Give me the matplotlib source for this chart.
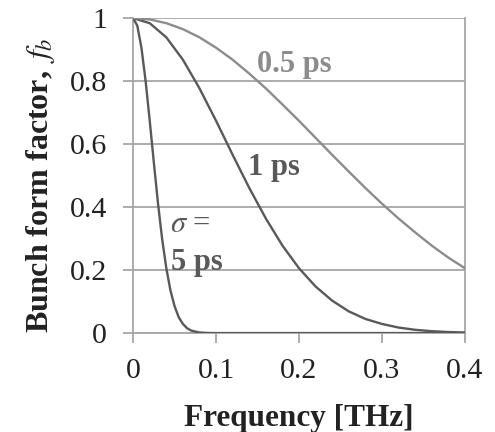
import matplotlib
matplotlib.use("Agg")
import matplotlib.pyplot as plt

# bunch form factor, per bunch length sigma
f_5ps = [0, 0.005, 0.01, 0.015, 0.02, 0.025, 0.03, 0.035, 0.04, 0.045, 0.05,
         0.055, 0.06, 0.065, 0.07, 0.08, 0.09, 0.1, 0.2, 0.3, 0.4]
fb_5ps = [1, 0.976, 0.906, 0.801, 0.674, 0.540, 0.411, 0.298, 0.206, 0.135, 0.085,
          0.050, 0.029, 0.0155, 0.0079, 0.0018, 0.0003, 0, 0, 0, 0]

f_1ps = [0, 0.02, 0.04, 0.06, 0.08, 0.1, 0.12, 0.14, 0.16, 0.18, 0.2,
         0.22, 0.24, 0.26, 0.28, 0.3, 0.32, 0.34, 0.36, 0.38, 0.4]
fb_1ps = [1, 0.984, 0.939, 0.868, 0.777, 0.674, 0.566, 0.461, 0.364, 0.278, 0.206,
          0.148, 0.103, 0.069, 0.045, 0.029, 0.0176, 0.0104, 0.006, 0.0033, 0.0018]

f_05ps = [0, 0.02, 0.04, 0.06, 0.08, 0.1, 0.12, 0.14, 0.16, 0.18, 0.2,
          0.22, 0.24, 0.26, 0.28, 0.3, 0.32, 0.34, 0.36, 0.38, 0.4]
fb_05ps = [1, 0.996, 0.984, 0.965, 0.939, 0.906, 0.868, 0.824, 0.777, 0.726, 0.674,
           0.620, 0.566, 0.513, 0.461, 0.411, 0.364, 0.320, 0.278, 0.240, 0.206]

x_ticks = [0, 0.1, 0.2, 0.3, 0.4]
y_ticks = [0, 0.2, 0.4, 0.6, 0.8, 1]

plt.rcParams['font.family'] = ['Liberation Serif', 'DejaVu Serif']
plt.rcParams['mathtext.fontset'] = 'stix'

dark = '#595959'
light = '#8c8c8c'
grid = '#a6a6a6'

fig = plt.figure(figsize=(4.95, 4.32), dpi=100)
ax = fig.add_axes([0.269, 0.229, 0.670, 0.729])

ax.plot(f_5ps, fb_5ps, color=dark, lw=1.7, zorder=3)
ax.plot(f_1ps, fb_1ps, color=dark, lw=1.7, zorder=3)
ax.plot(f_05ps, fb_05ps, color=light, lw=1.7, zorder=3)

ax.set_xlim(0, 0.4)
ax.set_ylim(0, 1)
ax.set_xticks(x_ticks)
ax.set_yticks(y_ticks)
ax.set_xticklabels(['0', '0.1', '0.2', '0.3', '0.4'])
ax.set_yticklabels(['0', '0.2', '0.4', '0.6', '0.8', '1'])
ax.yaxis.grid(True, color=grid, lw=1.3)
ax.set_axisbelow(True)
for s in ax.spines.values():
    s.set_color(grid)
    s.set_linewidth(1.3)
ax.spines['top'].set_visible(False)
ax.tick_params(axis='both', colors=grid, length=7, width=1.3, labelsize=21.5,
               labelcolor='#222222')
ax.tick_params(axis='x', pad=11)
ax.tick_params(axis='y', pad=12)

ax.set_xlabel('Frequency [THz]', fontsize=22.5, fontweight='bold', color='#222222', labelpad=14)
ax.set_ylabel(r'Bunch form factor, $\,f_b$', fontsize=23, fontweight='bold', color='#222222')
ax.yaxis.set_label_coords(-0.23, 0.47)

ax.text(0.149, 0.829, '0.5 ps', color=light, fontsize=22, fontweight='bold', va='baseline')
ax.text(0.1386, 0.502, '1 ps', color=dark, fontsize=22, fontweight='bold', va='baseline')
ax.text(0.0446, 0.321, r'$\sigma$ =', color=dark, fontsize=22, va='baseline')
ax.text(0.0458, 0.2, '5 ps', color=dark, fontsize=22, fontweight='bold', va='baseline')

fig.savefig('out.png', dpi=100)
